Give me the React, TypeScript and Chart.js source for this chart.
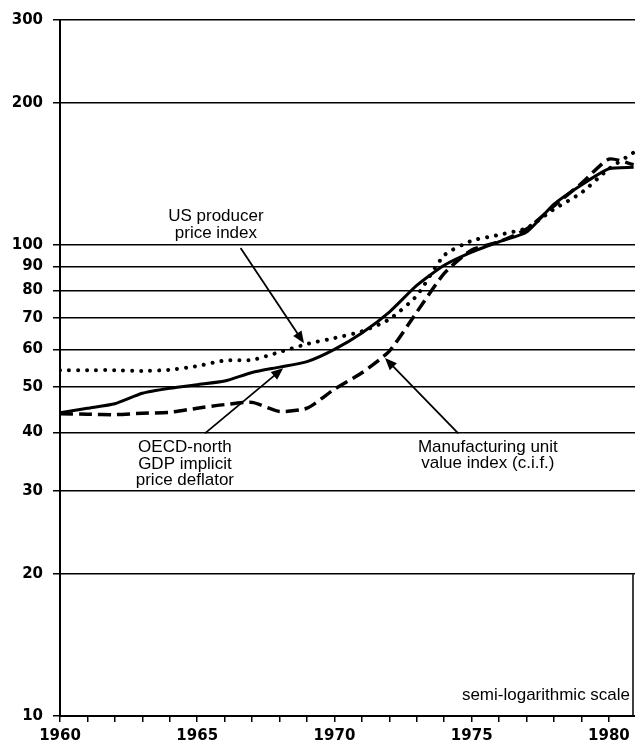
import React, { useEffect, useRef } from "react";
import { Chart, registerables } from "chart.js";

Chart.register(...registerables);

// ---- data ----
const years = [1960, 1961, 1962, 1963, 1964, 1965, 1966, 1967, 1968, 1969, 1970, 1971, 1972, 1973, 1974, 1975, 1976, 1977, 1978, 1979, 1980, 1980.9];
const oecdDeflator = [44, 45, 46, 48.4, 49.6, 50.5, 51.4, 53.6, 55, 56.5, 60, 65, 72, 82, 90.5, 96.5, 101.5, 106.5, 122, 134, 145, 146];
const usProducer = [54.2, 54.2, 54.2, 54.0, 54.3, 55.3, 56.8, 57.0, 59.2, 61.6, 63.4, 65.5, 69.5, 78, 95, 102, 105, 108.5, 119, 129, 145, 157];
const manufUnitValue = [43.8, 43.7, 43.6, 43.9, 44.1, 45, 45.8, 46.3, 44.3, 45, 49.4, 53.5, 59.5, 72, 87, 97.5, 101.5, 108, 121, 135, 152, 148];
const yTickValues = [10, 20, 30, 40, 50, 60, 70, 80, 90, 100, 200, 300];
const xLabelYears = [1960, 1965, 1970, 1975, 1980];

// annotations in data units (year, index value)
const labelUS = { x: 1965.68, y: 115.2, lines: ["US producer", "price index"] };
const arrowUS = { from: [1966.58, 98.4], to: [1968.89, 61.8] };
const labelOECD = { x: 1964.55, y: 37.1, lines: ["OECD-north", "GDP implicit", "price deflator"] };
const arrowOECD = { from: [1965.28, 39.8], to: [1968.13, 54.7] };
const labelManuf = { x: 1975.59, y: 37.2, lines: ["Manufacturing unit", "value index (c.i.f.)"] };
const arrowManuf = { from: [1974.51, 39.8], to: [1971.84, 57.5] };
const scaleNote = { x: 1980.77, y: 11.08, text: "semi-logarithmic scale" };

const toPoints = (vals: number[]) => vals.map((v, i) => ({ x: years[i], y: v }));

const annotationPlugin = {
  id: "annotations",
  afterDraw(chart: any) {
    const { ctx, scales, chartArea } = chart;
    const xs = scales.x;
    const ys = scales.y;
    const px = (v: number) => xs.getPixelForValue(v);
    const py = (v: number) => ys.getPixelForValue(v);
    ctx.save();
    ctx.fillStyle = "#000";
    ctx.strokeStyle = "#000";
    ctx.font = "17px 'Liberation Sans', Arial, sans-serif";
    ctx.textAlign = "center";
    ctx.textBaseline = "middle";
    const drawLabel = (l: any, lh: number) => {
      l.lines.forEach((t: string, i: number) => ctx.fillText(t, px(l.x), py(l.y) + i * lh));
    };
    drawLabel(labelUS, 17);
    drawLabel(labelOECD, 16.5);
    drawLabel(labelManuf, 16);

    const drawArrow = (a: any) => {
      const x1 = px(a.from[0]), y1 = py(a.from[1]);
      const x2 = px(a.to[0]), y2 = py(a.to[1]);
      const ang = Math.atan2(y2 - y1, x2 - x1);
      const len = 12, hw = 5;
      ctx.lineWidth = 1.8;
      ctx.beginPath();
      ctx.moveTo(x1, y1);
      ctx.lineTo(x2 - Math.cos(ang) * len * 0.8, y2 - Math.sin(ang) * len * 0.8);
      ctx.stroke();
      ctx.beginPath();
      ctx.moveTo(x2, y2);
      ctx.lineTo(x2 - Math.cos(ang) * len - Math.sin(ang) * hw, y2 - Math.sin(ang) * len + Math.cos(ang) * hw);
      ctx.lineTo(x2 - Math.cos(ang) * len + Math.sin(ang) * hw, y2 - Math.sin(ang) * len - Math.cos(ang) * hw);
      ctx.closePath();
      ctx.fill();
    };
    drawArrow(arrowUS);
    drawArrow(arrowOECD);
    drawArrow(arrowManuf);

    ctx.textAlign = "right";
    ctx.fillText(scaleNote.text, px(scaleNote.x), py(scaleNote.y));

    // right edge border (lower part)
    ctx.lineWidth = 1.5;
    ctx.beginPath();
    ctx.moveTo(chartArea.right - 2, py(20));
    ctx.lineTo(chartArea.right - 2, chartArea.bottom);
    ctx.stroke();
    ctx.restore();
  },
};

export default function App() {
  const ref = useRef<HTMLCanvasElement>(null);
  useEffect(() => {
    document.body.style.margin = "0";
    const tickFont = { family: "'DejaVu Sans', sans-serif", size: 15, weight: "bold" as const };
    const chart = new Chart(ref.current!, {
      type: "line",
      data: {
        datasets: [
          {
            label: "OECD-north GDP implicit price deflator",
            data: toPoints(oecdDeflator),
            borderColor: "#000",
            borderWidth: 3,
            pointRadius: 0,
            tension: 0.2,
          },
          {
            label: "US producer price index",
            data: toPoints(usProducer),
            borderColor: "#000",
            borderWidth: 4,
            borderDash: [0.01, 9],
            borderCapStyle: "round",
            pointRadius: 0,
            tension: 0.2,
          },
          {
            label: "Manufacturing unit value index (c.i.f.)",
            data: toPoints(manufUnitValue),
            borderColor: "#000",
            borderWidth: 3.5,
            borderDash: [13, 6],
            pointRadius: 0,
            tension: 0.2,
          },
        ],
      },
      options: {
        animation: false,
        responsive: false,
        devicePixelRatio: 1,
        layout: { padding: { top: 20, right: 0, left: 0, bottom: 0 } },
        plugins: { legend: { display: false }, tooltip: { enabled: false } },
        scales: {
          x: {
            type: "linear",
            min: 1960,
            max: 1980.95,
            afterFit: (s: any) => { s.height = 32; },
            ticks: {
              stepSize: 1,
              includeBounds: false,
              autoSkip: false,
              maxRotation: 0,
              padding: 5,
              color: "#000",
              font: tickFont,
              callback: (v: any) => (xLabelYears.includes(Number(v)) ? String(v) : ""),
            },
            grid: { drawOnChartArea: false, drawTicks: true, tickLength: 6, color: "#000", lineWidth: 1.5 },
            border: { display: true, color: "#000", width: 2 },
          },
          y: {
            type: "logarithmic",
            min: 10,
            max: 300,
            afterFit: (s: any) => { s.width = 60; },
            afterBuildTicks: (s: any) => { s.ticks = yTickValues.map((v) => ({ value: v })); },
            ticks: {
              autoSkip: false,
              padding: 10,
              color: "#000",
              font: tickFont,
              callback: (v: any) => String(v),
            },
            grid: { color: "#000", lineWidth: 1.5, drawTicks: true, tickLength: 7 },
            border: { display: true, color: "#000", width: 2 },
          },
        },
      },
      plugins: [annotationPlugin],
    } as any);
    return () => chart.destroy();
  }, []);
  return <canvas ref={ref} width={635} height={748} style={{ display: "block" }} />;
}
